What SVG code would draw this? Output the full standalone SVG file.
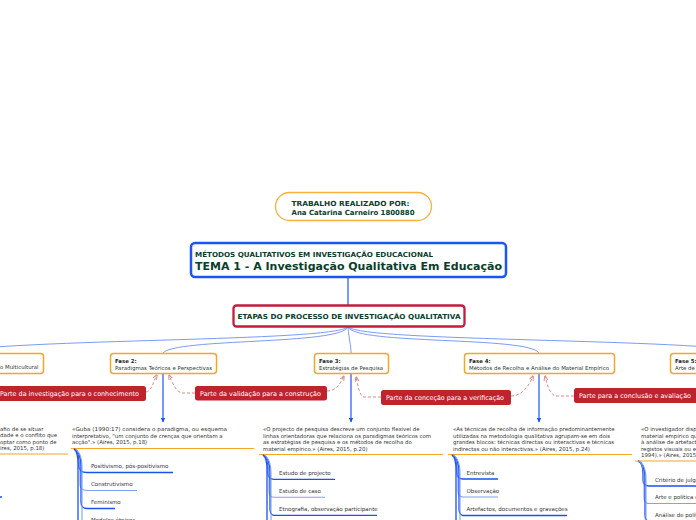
<svg xmlns="http://www.w3.org/2000/svg" width="696" height="520" viewBox="0 0 696 520">
<defs>
<style>
.t{font-family:"DejaVu Sans",Verdana,sans-serif;}
.dg{fill:#0b3d2c;font-weight:bold;}
.ph{fill:#fff;stroke:#f5a623;stroke-width:1.5;}
.pht{font-size:5.4px;fill:#333;}
.phb{font-size:5.4px;fill:#222;font-weight:bold;}
.lab{fill:#bf232e;}
.labt{font-size:6.5px;fill:#fff;}
.blk{font-size:5.4px;fill:#333;}
.ul{stroke:#f5a623;stroke-width:1.2;fill:none;}
.br{fill:none;stroke:#7c9cf2;stroke-width:1;}
.ar{fill:none;stroke:#1a57f2;stroke-width:1.2;}
.ds{fill:none;stroke:#d98a84;stroke-width:1;stroke-dasharray:3 2;}
.l1{fill:none;stroke:#1a52ee;stroke-width:1.3;}
.l2{fill:none;stroke:#7fa2f5;stroke-width:1.1;}
.it{font-size:5.5px;fill:#333;}
</style>
<marker id="ab" viewBox="0 0 10 10" refX="9" refY="5" markerWidth="5" markerHeight="5" markerUnits="userSpaceOnUse" orient="auto"><path d="M0,0L10,5L0,10z" fill="#1a57f2"/></marker>
<marker id="ad" viewBox="0 0 10 10" refX="9" refY="5" markerWidth="5" markerHeight="5" markerUnits="userSpaceOnUse" orient="auto"><path d="M0,1L10,5L0,9" fill="none" stroke="#d98a84" stroke-width="2"/></marker>
</defs>
<rect width="696" height="520" fill="#fff"/>

<g id="connectors">
<path class="ar" d="M348,277 L348,305" stroke-width="1"/>
<path class="br" d="M348,327 C349,340 351,345 351,353"/>
<path class="br" d="M348,327 C340,345 175,338 163,353"/>
<path class="br" d="M348,327 C330,342 20,338 -60,353"/>
<path class="br" d="M348,327 C356,345 528,336 539,353"/>
<path class="br" d="M348,327 C365,342 690,338 760,353"/>
<path class="ar" d="M163,374 L163,422" marker-end="url(#ab)"/>
<path class="ar" d="M351,374 L351,422" marker-end="url(#ab)"/>
<path class="ar" d="M539,374 L539,422" marker-end="url(#ab)"/>
<path class="ds" d="M146,392 C152,391 153,382 157,375" marker-end="url(#ad)"/>
<path class="ds" d="M195,393 L182,393 C176,392 172,382 169,375" marker-end="url(#ad)"/>
<path class="ds" d="M327,391 C336,391 340,384 344,376" marker-end="url(#ad)"/>
<path class="ds" d="M381,397 L364,397 C359,396 358,385 356,377" marker-end="url(#ad)"/>
<path class="ds" d="M511,396 C522,396 529,386 533,376" marker-end="url(#ad)"/>
<path class="ds" d="M574,396 L556,396 C550,395 547,385 545,376" marker-end="url(#ad)"/>
</g>

<g id="author">
<rect x="275.5" y="192.5" width="156" height="28" rx="14" fill="#fff" stroke="#f7b13c" stroke-width="1.3"/>
<text class="t dg" x="291.5" y="205.5" font-size="7" textLength="118" lengthAdjust="spacingAndGlyphs">TRABALHO REALIZADO POR:</text>
<text class="t dg" x="291.5" y="214.5" font-size="7" textLength="123" lengthAdjust="spacingAndGlyphs">Ana Catarina Carneiro 1800880</text>
</g>

<g id="main">
<rect x="191" y="243" width="315" height="34" rx="4" fill="#fff" stroke="#1a57f2" stroke-width="2.5"/>
<text class="t dg" x="195" y="256.5" font-size="6.9" textLength="238" lengthAdjust="spacingAndGlyphs">MÉTODOS QUALITATIVOS EM INVESTIGAÇÃO EDUCACIONAL</text>
<text class="t dg" x="195" y="269.5" font-size="11" textLength="307" lengthAdjust="spacingAndGlyphs">TEMA 1 - A Investigação Qualitativa Em Educação</text>
</g>

<g id="etapas">
<rect x="233.5" y="305.5" width="231" height="21" rx="3" fill="#fff" stroke="#c21d3c" stroke-width="2.3"/>
<text class="t dg" x="237.5" y="319" font-size="6.8" textLength="223" lengthAdjust="spacingAndGlyphs">ETAPAS DO PROCESSO DE INVESTIGAÇÃO QUALITATIVA</text>
</g>

<g id="fase1">
<rect class="ph" x="-60" y="353.5" width="103.5" height="20" rx="3"/>
<text class="t pht" x="0" y="369">o Multicultural</text>
</g>
<g id="fase2">
<rect class="ph" x="110.5" y="353.5" width="106" height="20" rx="3"/>
<text class="t phb" x="115" y="362.5">Fase 2:</text>
<text class="t pht" x="115" y="369.5" textLength="97" lengthAdjust="spacingAndGlyphs">Paradigmas Teóricos e Perspectivas</text>
</g>
<g id="fase3">
<rect class="ph" x="314.5" y="353.5" width="74" height="20" rx="3"/>
<text class="t phb" x="319" y="362.5">Fase 3:</text>
<text class="t pht" x="319" y="369.5">Estratégias de Pesquisa</text>
</g>
<g id="fase4">
<rect class="ph" x="464.5" y="353.5" width="150" height="20" rx="3"/>
<text class="t phb" x="469" y="362.5">Fase 4:</text>
<text class="t pht" x="469" y="369.5" textLength="140" lengthAdjust="spacingAndGlyphs">Métodos de Recolha e Análise do Material Empírico</text>
</g>
<g id="fase5">
<rect class="ph" x="670.5" y="353.5" width="120" height="20" rx="3"/>
<text class="t phb" x="675" y="362.5">Fase 5:</text>
<text class="t pht" x="675" y="369.5">Arte de interpretação</text>
</g>

<g id="label1">
<rect class="lab" x="-6" y="386" width="152" height="15" rx="2.5"/>
<text class="t labt" x="0" y="395.8" textLength="139" lengthAdjust="spacingAndGlyphs">Parte da investigação para o conhecimento</text>
</g>
<g id="label2">
<rect class="lab" x="195" y="386" width="132" height="14.5" rx="2.5"/>
<text class="t labt" x="200" y="395.5" textLength="121" lengthAdjust="spacingAndGlyphs">Parte da validação para a construção</text>
</g>
<g id="label3">
<rect class="lab" x="381" y="390" width="130" height="15" rx="2.5"/>
<text class="t labt" x="386" y="399.8" textLength="118" lengthAdjust="spacingAndGlyphs">Parte da conceção para a verificação</text>
</g>
<g id="label4">
<rect class="lab" x="574" y="388" width="128" height="15" rx="2.5"/>
<text class="t labt" x="579" y="397.8" textLength="112" lengthAdjust="spacingAndGlyphs">Parte para a conclusão e avaliação</text>
</g>

<g id="bloco1">
<text class="t blk" x="0" y="431">afio de se situar</text>
<text class="t blk" x="0" y="437.3">dade e o conflito que</text>
<text class="t blk" x="0" y="443.6">optar como ponto de</text>
<text class="t blk" x="0" y="449.9">ires, 2015, p.18)</text>
<path class="ul" d="M-5,454 L68,454"/>
<path class="l1" d="M-8,497 L2,497"/>
</g>

<g id="bloco2">
<text class="t blk" x="72" y="431" textLength="155" lengthAdjust="spacingAndGlyphs">«Guba (1990:17) considera o paradigma, ou esquema</text>
<text class="t blk" x="72" y="437.5">interpretativo, "um conjunto de crenças que orientam a</text>
<text class="t blk" x="72" y="444">acção".» (Aires, 2015, p.18)</text>
<path class="ul" d="M71,448.5 L254,448.5"/>
</g>
<g id="lista2">
<path class="l1" d="M74,449 C78,450 79,455 79,462 L79,466 C79,470 82,472.5 87,472.5 L173,472.5"/>
<path class="l2" d="M74,449 C79,451 80,456 80,465 L80,484 C80,488 82,490.5 87,490.5 L137,490.5"/>
<path class="l1" d="M74,449 C79,451 81,457 81,466 L81,502 C81,506 83,508.5 87,508.5 L115,508.5"/>
<path class="l2" d="M74,449 C80,451 82,458 82,468 L82,525"/>
<path class="l1" d="M74,449 C77,451 78,456 78,464 L78,525"/>
<text class="t it" x="91" y="468">Positivismo, pós-positivismo</text>
<text class="t it" x="91" y="486">Construtivismo</text>
<text class="t it" x="91" y="504">Feminismo</text>
<text class="t it" x="91" y="522">Modelos étnicos</text>
</g>

<g id="bloco3">
<text class="t blk" x="263" y="431">«O projecto de pesquisa descreve um conjunto flexível de</text>
<text class="t blk" x="263" y="437.5">linhas orientadoras que relaciona os paradigmas teóricos com</text>
<text class="t blk" x="263" y="444">as estratégias de pesquisa e os métodos de recolha do</text>
<text class="t blk" x="263" y="450.5">material empírico.» (Aires, 2015, p.20)</text>
<path class="ul" d="M259,454.5 L443,454.5"/>
</g>
<g id="lista3">
<path class="l1" d="M263,455 C267,456 268,461 268,468 L268,473 C268,477 270,479.3 274,479.3 L335,479.3"/>
<path class="l2" d="M263,455 C268,457 269,462 269,470 L269,491 C269,495 271,497.3 274,497.3 L325,497.3"/>
<path class="l1" d="M263,455 C268,457 270,463 270,472 L270,509 C270,513 272,515.3 274,515.3 L377,515.3"/>
<path class="l2" d="M263,455 C269,457 271,464 271,474 L271,525"/>
<path class="l1" d="M263,455 C266,457 267,462 267,470 L267,525"/>
<text class="t it" x="279" y="475">Estudo de projecto</text>
<text class="t it" x="279" y="493">Estudo de caso</text>
<text class="t it" x="279" y="511">Etnografia, observação participante</text>
</g>

<g id="bloco4">
<text class="t blk" x="453" y="431">«As técnicas de recolha de informação predominantemente</text>
<text class="t blk" x="453" y="437.5">utilizadas na metodologia qualitativa agrupam-se em dois</text>
<text class="t blk" x="453" y="444">grandes blocos: técnicas directas ou interactivas e técnicas</text>
<text class="t blk" x="453" y="450.5">indirectas ou não interactivas.» (Aires, 2015, p.24)</text>
<path class="ul" d="M448,454.5 L632,454.5"/>
</g>
<g id="lista4">
<path class="l1" d="M452,455 C456,456 457,461 457,468 L457,473 C457,477 459,479 463,479 L498,479"/>
<path class="l2" d="M452,455 C457,457 458,462 458,470 L458,491 C458,495 460,497 463,497 L498,497"/>
<path class="l1" d="M452,455 C457,457 459,463 459,472 L459,509 C459,513 461,515.5 463,515.5 L567,515.5"/>
<path class="l2" d="M452,455 C458,457 460,464 460,474 L460,525"/>
<path class="l1" d="M452,455 C455,457 456,462 456,470 L456,525"/>
<text class="t it" x="466.5" y="474.8">Entrevista</text>
<text class="t it" x="466.5" y="492.8">Observação</text>
<text class="t it" x="466.5" y="511">Artefactos, documentos e gravações</text>
</g>

<g id="bloco5">
<text class="t blk" x="641" y="431">«O investigador dispõe de um</text>
<text class="t blk" x="641" y="437.5">material empírico que</text>
<text class="t blk" x="641" y="444">à análise de artefactos</text>
<text class="t blk" x="641" y="450.5">registos visuais ou electrónicos</text>
<text class="t blk" x="641" y="457">1994).» (Aires, 2015, p.29)</text>
<path class="ul" d="M635,461 L700,461"/>
</g>
<g id="lista5">
<path class="l1" d="M638,461 C642,462 643,467 643,474 L643,480 C643,484 645,486 649,486 L700,486"/>
<path class="l2" d="M638,461 C643,463 644,468 644,476 L644,497.5 C644,501.5 646,503.5 649,503.5 L700,503.5"/>
<path class="l1" d="M638,461 C643,463 645,469 645,478 L645,515 C645,519 647,521 649,521 L700,521"/>
<path class="l2" d="M638,461 C644,463 646,470 646,480 L646,525"/>
<text class="t it" x="655" y="481.5">Critério de julgamento</text>
<text class="t it" x="655" y="499">Arte e política da interpretação</text>
<text class="t it" x="655" y="516.5">Análise de política</text>
</g>
</svg>
